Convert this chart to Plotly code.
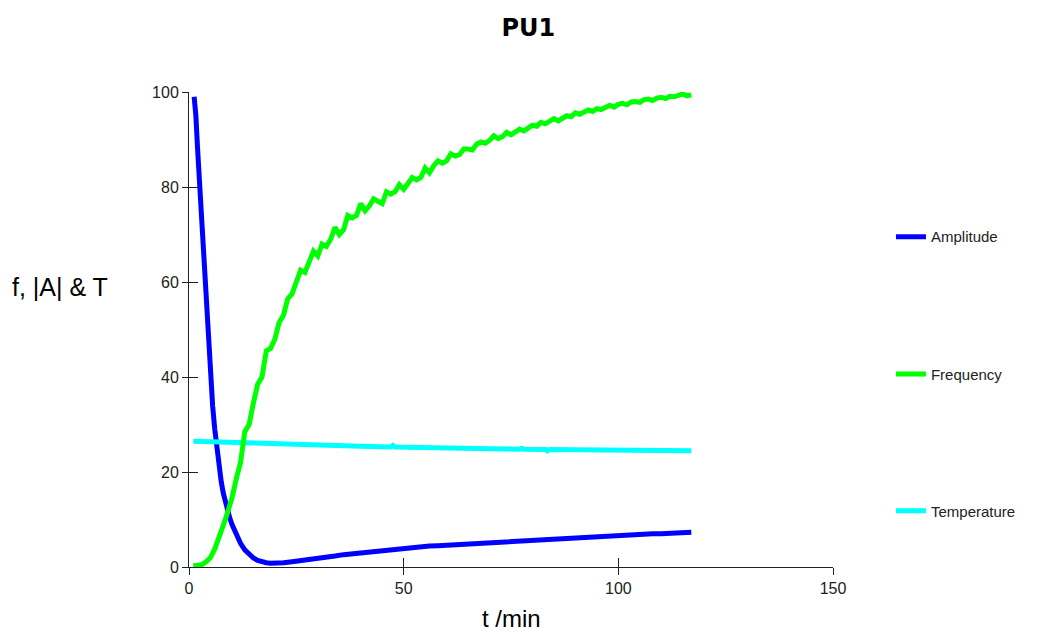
import plotly.graph_objects as go

# ---------------- data ----------------
t_freq = list(range(1, 118))
frequency = [
    0.2, 0.3, 0.5, 1.1, 2.0, 3.8, 6.0, 8.8, 11.5, 14.5,
    18.5, 22.0, 28.5, 30.0, 34.5, 38.5, 40.0, 45.5, 46.0, 48.0,
    51.5, 53.0, 56.5, 57.5, 60.0, 62.5, 62.0, 64.0, 66.5, 65.5,
    68.0, 67.5, 69.0, 71.5, 70.0, 71.0, 74.0, 73.5, 74.0, 76.5,
    75.0, 76.0, 77.5, 77.0, 76.5, 79.0, 78.5, 79.0, 80.5, 79.5,
    81.0, 82.0, 81.5, 82.0, 84.0, 83.0, 84.5, 85.5, 85.0, 85.5,
    87.0, 86.5, 86.8, 88.0, 88.0, 87.8, 89.0, 89.5, 89.2, 89.8,
    90.8, 90.2, 90.6, 91.5, 91.0, 91.6, 92.2, 91.8, 92.4, 93.0,
    92.8, 93.6, 93.3, 93.9, 94.4, 93.9, 94.6, 95.0, 94.8, 95.6,
    95.3, 95.7, 96.2, 95.9, 96.5, 96.3, 96.8, 97.2, 96.8, 97.4,
    97.6, 97.3, 97.9, 98.0, 97.8, 98.4, 98.5, 98.2, 98.7, 98.9,
    98.6, 99.1, 99.0, 99.3, 99.6, 99.2, 99.4,
]

t_amp = [1.2, 1.6, 2, 2.5, 3, 3.5, 4, 4.5, 5, 5.5, 6, 6.5, 7, 7.5, 8, 8.5, 9, 9.5,
         10, 11, 12, 13, 14, 15, 16, 17, 18, 19, 20, 21, 22, 24, 26, 28, 30, 32,
         34, 36, 38, 40, 42, 44, 46, 48, 50, 52, 54, 56, 58, 60, 62, 64, 66, 68,
         70, 72, 74, 76, 78, 80, 82, 84, 86, 88, 90, 92, 94, 96, 98, 100, 102,
         104, 106, 108, 110, 112, 114, 116, 117]
amplitude = [99, 95, 88, 80, 73, 66, 59, 51, 42, 34, 29, 24.5, 21, 18, 15.5, 13.5, 11.8, 10.3,
             9.0, 6.8, 5.0, 3.6, 2.6, 1.9, 1.4, 1.1, 0.9, 0.8, 0.8, 0.8, 0.9, 1.1, 1.3, 1.6, 1.8, 2.1,
             2.3, 2.6, 2.8, 3.0, 3.2, 3.4, 3.6, 3.8, 3.9, 4.1, 4.2, 4.4, 4.5, 4.6, 4.8, 4.9, 5.0, 5.2,
             5.3, 5.4, 5.5, 5.6, 5.7, 5.8, 5.9, 6.0, 6.1, 6.2, 6.3, 6.4, 6.4, 6.5, 6.6, 6.7, 6.8,
             6.8, 6.9, 7.0, 7.0, 7.1, 7.2, 7.2, 7.3]

t_temp = [1, 10, 20, 30, 40, 47, 47.5, 48, 50, 60, 70, 77, 77.5, 78, 83, 83.5, 84, 90, 100, 110, 117]
temperature = [26.5, 26.2, 25.9, 25.6, 25.4, 25.25, 25.6, 25.25, 25.2, 25.0, 24.9, 24.8, 25.0, 24.8,
               24.75, 24.45, 24.75, 24.7, 24.6, 24.55, 24.5]

x_ticks = [0, 50, 100, 150]
y_ticks = [0, 20, 40, 60, 80, 100]

# ---------------- figure ----------------
fig = go.Figure()
fig.add_trace(go.Scatter(x=t_amp, y=amplitude, mode="lines", name="Amplitude",
                         line=dict(color="#0000ff", width=5), legend="legend", showlegend=True))
# these sit on overlay axes (identical ranges) which carry the inward tick halves
fig.add_trace(go.Scatter(x=t_temp, y=temperature, mode="lines", name="Temperature",
                         line=dict(color="#00ffff", width=5), legend="legend3", showlegend=True,
                         xaxis="x2", yaxis="y2"))
fig.add_trace(go.Scatter(x=t_freq, y=frequency, mode="lines", name="Frequency",
                         line=dict(color="#00ff00", width=5), legend="legend2", showlegend=True,
                         xaxis="x2", yaxis="y2"))

tickfont = dict(family="Liberation Sans, Arial, sans-serif", size=16, color="#222222")
legfont = dict(family="Liberation Sans, Arial, sans-serif", size=15, color="#222222")

fig.update_layout(
    width=1040, height=634,
    showlegend=True,
    paper_bgcolor="white", plot_bgcolor="white",
    margin=dict(l=189, r=207, t=92, b=67),
    title=dict(text="<b>PU1</b>", x=0.508, xanchor="center", y=0.956, yanchor="middle",
               font=dict(family="DejaVu Sans, Verdana, sans-serif", size=24, color="black")),
    xaxis=dict(range=[0, 150], tickvals=x_ticks, showgrid=False, zeroline=False,
               showline=True, linecolor="#222222", linewidth=1,
               ticks="outside", ticklen=7, tickcolor="#222222", tickfont=tickfont),
    yaxis=dict(range=[0, 100], tickvals=y_ticks, showgrid=False, zeroline=False,
               showline=True, linecolor="#222222", linewidth=1,
               ticks="outside", ticklen=6, tickcolor="#222222", tickfont=tickfont),
    xaxis2=dict(range=[0, 150], tickvals=x_ticks, overlaying="x", anchor="y2", side="bottom",
                showgrid=False, zeroline=False, showline=True, linecolor="#222222",
                showticklabels=False, layer="above traces",
                ticks="inside", ticklen=9, tickwidth=1, tickcolor="#222222"),
    yaxis2=dict(range=[0, 100], tickvals=y_ticks, overlaying="y", anchor="x2", side="left",
                showgrid=False, zeroline=False, showline=True, linecolor="#222222",
                showticklabels=False, layer="above traces",
                ticks="inside", ticklen=9, tickwidth=1, tickcolor="#222222"),
    legend=dict(x=1.09, y=0.695, xanchor="left", yanchor="middle", font=legfont,
                bgcolor="rgba(0,0,0,0)"),
    legend2=dict(x=1.09, y=0.406, xanchor="left", yanchor="middle", font=legfont,
                 bgcolor="rgba(0,0,0,0)"),
    legend3=dict(x=1.09, y=0.118, xanchor="left", yanchor="middle", font=legfont,
                 bgcolor="rgba(0,0,0,0)"),
    annotations=[
        dict(text="f, |A| & T", xref="paper", yref="paper", x=-0.278, y=0.589,
             xanchor="left", yanchor="middle", showarrow=False,
             font=dict(family="Liberation Sans, Arial, sans-serif", size=25, color="black")),
        dict(text="t /min", xref="paper", yref="paper", x=0.5, y=-0.108,
             xanchor="center", yanchor="middle", showarrow=False,
             font=dict(family="Liberation Sans, Arial, sans-serif", size=24, color="black")),
    ],
)

fig.write_html("out.html")
